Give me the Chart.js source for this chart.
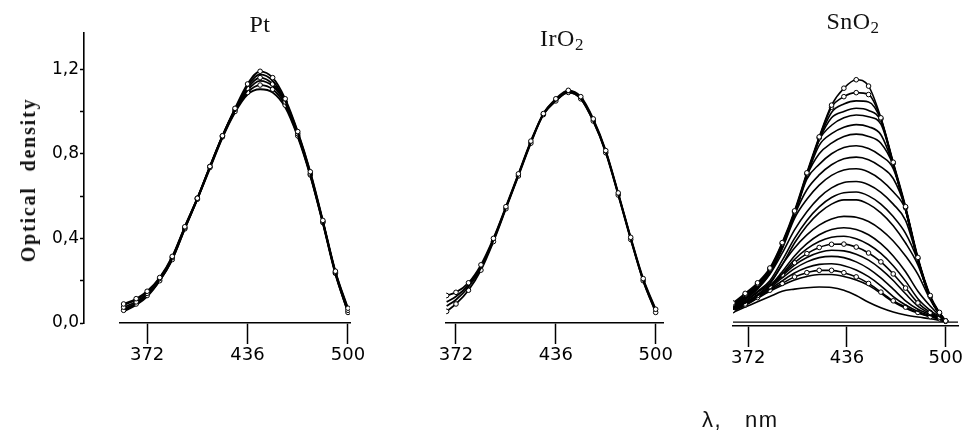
<!DOCTYPE html>
<html><head><meta charset="utf-8">
<script src="https://cdn.jsdelivr.net/npm/chart.js@4.4.1/dist/chart.umd.min.js"></script>
<style>
html,body{margin:0;padding:0;background:#fff;overflow:hidden;width:972px;height:434px;position:relative;}
canvas{position:absolute;top:0;}
.t{position:absolute;white-space:nowrap;color:#111;line-height:24px;}
.serif{font-family:"Liberation Serif","Times New Roman",serif;}
.sans{font-family:"Liberation Sans","DejaVu Sans",sans-serif;}
</style></head><body>
<canvas id="cy" width="100" height="434" style="left:0px"></canvas>
<canvas id="c1" width="290" height="434" style="left:90px"></canvas>
<canvas id="c2" width="277" height="434" style="left:416px"></canvas>
<canvas id="c3" width="269" height="434" style="left:703px"></canvas>
<div class="t serif" style="left:260px;top:12px;font-size:24px;letter-spacing:0.5px;transform:translateX(-50%)">Pt</div>
<div class="t serif" style="left:562px;top:26px;font-size:24px;letter-spacing:0.5px;transform:translateX(-50%)">IrO<span style="font-size:17px;vertical-align:-4px">2</span></div>
<div class="t serif" style="left:853px;top:9px;font-size:24px;letter-spacing:0.5px;transform:translateX(-50%)">SnO<span style="font-size:17px;vertical-align:-4px">2</span></div>
<div class="t serif" style="left:28px;top:180px;font-size:20px;font-weight:bold;letter-spacing:1.8px;word-spacing:8px;transform:translate(-50%,-50%) rotate(-90deg)">Optical density</div>
<div class="t sans" style="left:702px;top:408px;font-size:22px;letter-spacing:1.5px;white-space:pre">λ,   nm</div>
<script>
// ---- axis ticks ----
const yTickValues = [0, 0.2, 0.4, 0.6, 0.8, 1.0, 1.2];
const yTickLabels = ['0,0', '', '0,4', '', '0,8', '', '1,2'];
const xTickValues = [372, 436, 500];
const xTickLabels = ['372', '436', '500'];

// ---- Pt panel (wavelength nm, optical density) ----
const ptWavelengths = [357, 365, 372, 380, 388, 396, 404, 412, 420, 428, 436, 444, 452, 460, 468, 476, 484, 492, 500];
const pt1 = [0.09, 0.115, 0.15, 0.215, 0.315, 0.455, 0.59, 0.74, 0.885, 1.015, 1.13, 1.19, 1.16, 1.06, 0.905, 0.715, 0.485, 0.245, 0.07];
const pt2 = [0.085, 0.11, 0.145, 0.21, 0.31, 0.455, 0.59, 0.74, 0.885, 1.01, 1.12, 1.175, 1.145, 1.05, 0.90, 0.71, 0.48, 0.24, 0.065];
const pt3 = [0.075, 0.10, 0.14, 0.21, 0.31, 0.45, 0.59, 0.74, 0.885, 1.01, 1.11, 1.16, 1.13, 1.045, 0.895, 0.705, 0.48, 0.24, 0.06];
const pt4 = [0.065, 0.095, 0.135, 0.205, 0.305, 0.45, 0.585, 0.735, 0.88, 1.005, 1.10, 1.145, 1.12, 1.04, 0.89, 0.70, 0.475, 0.235, 0.055];
const pt5 = [0.06, 0.09, 0.13, 0.20, 0.30, 0.445, 0.585, 0.735, 0.88, 1.0, 1.09, 1.125, 1.105, 1.03, 0.885, 0.70, 0.475, 0.235, 0.05];
const pt6 = [0.055, 0.085, 0.125, 0.20, 0.30, 0.445, 0.585, 0.73, 0.875, 0.995, 1.08, 1.105, 1.09, 1.02, 0.88, 0.695, 0.47, 0.23, 0.05];

// ---- IrO2 panel ----
const irWavelengths = [366, 372, 380, 388, 396, 404, 412, 420, 428, 436, 444, 452, 460, 468, 476, 484, 492, 500];
const ir1 = [0.13, 0.145, 0.19, 0.275, 0.40, 0.55, 0.705, 0.86, 0.99, 1.06, 1.10, 1.07, 0.965, 0.815, 0.615, 0.405, 0.21, 0.065];
const ir2 = [0.10, 0.125, 0.18, 0.265, 0.395, 0.545, 0.70, 0.855, 0.99, 1.055, 1.095, 1.065, 0.96, 0.81, 0.61, 0.40, 0.205, 0.06];
const ir3 = [0.08, 0.11, 0.17, 0.26, 0.39, 0.545, 0.70, 0.855, 0.985, 1.05, 1.09, 1.06, 0.955, 0.81, 0.61, 0.40, 0.20, 0.055];
const ir4 = [0.055, 0.09, 0.155, 0.25, 0.385, 0.54, 0.695, 0.85, 0.985, 1.05, 1.09, 1.06, 0.955, 0.805, 0.605, 0.395, 0.20, 0.05];

// ---- SnO2 panel ----
const snWavelengths = [362, 370, 378, 386, 394, 402, 410, 418, 426, 434, 442, 450, 458, 466, 474, 482, 490, 496, 500];
const sn1 = [0.095, 0.14, 0.19, 0.26, 0.38, 0.53, 0.71, 0.88, 1.03, 1.11, 1.15, 1.12, 0.97, 0.76, 0.55, 0.31, 0.13, 0.05, 0.01];
const sn2 = [0.09, 0.135, 0.185, 0.255, 0.375, 0.525, 0.705, 0.875, 1.02, 1.07, 1.089, 1.08, 0.965, 0.755, 0.545, 0.305, 0.125, 0.045, 0.01];
const sn3 = [0.085, 0.13, 0.18, 0.25, 0.37, 0.52, 0.70, 0.87, 0.995, 1.035, 1.05, 1.045, 0.96, 0.75, 0.54, 0.30, 0.12, 0.045, 0.01];
const sn4 = [0.085, 0.13, 0.18, 0.25, 0.37, 0.52, 0.70, 0.865, 0.97, 1.0, 1.015, 1.005, 0.955, 0.75, 0.54, 0.30, 0.12, 0.045, 0.01];
const sn5 = [0.08, 0.125, 0.175, 0.245, 0.365, 0.515, 0.70, 0.865, 0.935, 0.97, 0.983, 0.975, 0.94, 0.75, 0.54, 0.30, 0.12, 0.045, 0.01];
const sn6 = [0.08, 0.125, 0.175, 0.245, 0.365, 0.515, 0.695, 0.84, 0.895, 0.925, 0.938, 0.928, 0.89, 0.745, 0.535, 0.30, 0.12, 0.045, 0.01];
const sn7 = [0.075, 0.12, 0.17, 0.24, 0.36, 0.515, 0.695, 0.80, 0.85, 0.882, 0.893, 0.882, 0.85, 0.745, 0.535, 0.30, 0.12, 0.045, 0.01];
const sn8 = [0.075, 0.12, 0.17, 0.24, 0.36, 0.51, 0.68, 0.75, 0.80, 0.83, 0.838, 0.825, 0.79, 0.73, 0.535, 0.295, 0.12, 0.045, 0.01];
const sn9 = [0.075, 0.115, 0.165, 0.235, 0.355, 0.51, 0.63, 0.70, 0.748, 0.776, 0.784, 0.772, 0.738, 0.683, 0.54, 0.295, 0.12, 0.045, 0.01];
const sn10 = [0.07, 0.115, 0.165, 0.235, 0.35, 0.495, 0.585, 0.652, 0.698, 0.723, 0.729, 0.714, 0.677, 0.62, 0.535, 0.295, 0.12, 0.045, 0.01];
const sn11 = [0.07, 0.11, 0.16, 0.23, 0.33, 0.44, 0.526, 0.593, 0.639, 0.664, 0.669, 0.654, 0.618, 0.562, 0.485, 0.30, 0.12, 0.045, 0.01];
const sn12 = [0.07, 0.105, 0.15, 0.20, 0.296, 0.40, 0.485, 0.549, 0.593, 0.616, 0.619, 0.601, 0.562, 0.503, 0.424, 0.295, 0.12, 0.045, 0.01];
const sn13 = [0.065, 0.10, 0.145, 0.19, 0.275, 0.378, 0.46, 0.521, 0.562, 0.582, 0.582, 0.562, 0.521, 0.46, 0.378, 0.275, 0.12, 0.045, 0.01];
const sn14 = [0.065, 0.095, 0.135, 0.185, 0.276, 0.355, 0.417, 0.463, 0.492, 0.504, 0.50, 0.48, 0.442, 0.388, 0.317, 0.23, 0.11, 0.04, 0.01];
const sn15 = [0.065, 0.095, 0.13, 0.175, 0.242, 0.317, 0.375, 0.417, 0.442, 0.45, 0.442, 0.417, 0.375, 0.317, 0.242, 0.15, 0.08, 0.035, 0.01];
const sn16 = [0.065, 0.095, 0.13, 0.175, 0.232, 0.30, 0.35, 0.385, 0.405, 0.41, 0.398, 0.371, 0.329, 0.271, 0.198, 0.115, 0.06, 0.03, 0.01];
const sn17 = [0.06, 0.09, 0.13, 0.172, 0.228, 0.285, 0.328, 0.357, 0.372, 0.373, 0.359, 0.331, 0.289, 0.232, 0.165, 0.095, 0.05, 0.028, 0.01];
const sn18 = [0.06, 0.09, 0.128, 0.17, 0.222, 0.274, 0.31, 0.333, 0.344, 0.341, 0.325, 0.297, 0.255, 0.201, 0.138, 0.08, 0.045, 0.025, 0.01];
const sn19 = [0.06, 0.088, 0.125, 0.165, 0.213, 0.257, 0.289, 0.309, 0.315, 0.309, 0.289, 0.257, 0.213, 0.16, 0.105, 0.065, 0.04, 0.022, 0.01];
const sn20 = [0.058, 0.086, 0.122, 0.16, 0.199, 0.236, 0.262, 0.277, 0.28, 0.271, 0.251, 0.219, 0.176, 0.125, 0.085, 0.055, 0.035, 0.02, 0.008];
const sn21 = [0.058, 0.085, 0.12, 0.155, 0.187, 0.218, 0.238, 0.249, 0.249, 0.238, 0.218, 0.187, 0.146, 0.105, 0.075, 0.05, 0.03, 0.02, 0.008];
const sn22 = [0.056, 0.083, 0.117, 0.15, 0.178, 0.203, 0.22, 0.229, 0.229, 0.22, 0.203, 0.178, 0.14, 0.1, 0.07, 0.047, 0.03, 0.018, 0.008];
const sn23 = [0.05, 0.075, 0.10, 0.125, 0.15, 0.16, 0.167, 0.17, 0.168, 0.155, 0.13, 0.098, 0.072, 0.052, 0.038, 0.028, 0.02, 0.012, 0.005];
const snBaseWavelengths = [362.1, 508];
const snBase = [0.004, 0.004];

const ptSeries = [pt1, pt2, pt3, pt4, pt5, pt6];
const irSeries = [ir1, ir2, ir3, ir4];
const snSeries = [sn1, sn2, sn3, sn4, sn5, sn6, sn7, sn8, sn9, sn10, sn11, sn12, sn13, sn14, sn15, sn16, sn17, sn18, sn19, sn20, sn21, sn22, sn23];

Chart.defaults.animation = false;
Chart.defaults.font.family = '"DejaVu Sans", sans-serif';
Chart.defaults.color = '#000';

function lineSets(grid, series, marked, width) {
  return series.map((s, k) => ({
    data: grid.map((x, i) => ({x: x, y: s[i]})),
    borderColor: '#000',
    borderWidth: width,
    fill: false,
    cubicInterpolationMode: 'monotone',
    pointRadius: marked.includes(k) ? 2.3 : 0,
    pointBackgroundColor: '#fff',
    pointBorderColor: '#000',
    pointBorderWidth: 1
  }));
}

function panel(id, xmin, xmax, datasets, o) {
  new Chart(document.getElementById(id), {
    type: 'line',
    data: {datasets: datasets},
    options: {
      responsive: false, animation: false, events: [],
      layout: {padding: {left: 30, right: o.padRight, top: 33, bottom: 0}},
      plugins: {legend: {display: false}, tooltip: {enabled: false}, title: {display: false}},
      scales: {
        x: {
          type: 'linear', min: xmin, max: xmax,
          afterBuildTicks: s => { s.ticks = xTickValues.map(v => ({value: v})); },
          afterFit: s => { s.height = o.axisH; },
          ticks: {autoSkip: false, maxRotation: 0, padding: 1, color: '#000',
                  font: {family: '"DejaVu Sans", sans-serif', size: 18},
                  callback: (v, i) => xTickLabels[i]},
          grid: {drawOnChartArea: false, drawTicks: true, tickLength: 21, tickWidth: 1.5, color: '#000'},
          border: {display: true, color: '#000', width: 1.6}
        },
        y: {display: false, min: o.ymin, max: 1.371}
      }
    }
  });
}

// Y axis (shared)
new Chart(document.getElementById('cy'), {
  type: 'line',
  data: {datasets: []},
  options: {
    responsive: false, animation: false, events: [],
    layout: {padding: {left: 0, right: 0, top: 33, bottom: 111}},
    plugins: {legend: {display: false}, tooltip: {enabled: false}},
    scales: {
      x: {type: 'linear', display: false, min: 0, max: 1},
      y: {
        min: 0, max: 1.371,
        afterBuildTicks: s => { s.ticks = yTickValues.map(v => ({value: v})); },
        afterFit: s => { s.width = 84; },
        ticks: {autoSkip: false, padding: 1, color: '#000', font: {size: 17},
                callback: (v, i) => yTickLabels[i]},
        grid: {drawOnChartArea: false, drawTicks: true, tickLength: 4, tickWidth: 1.5, color: '#000'},
        border: {display: true, color: '#000', width: 1.6}
      }
    }
  }
});

panel('c1', 354.7, 501.3, lineSets(ptWavelengths, ptSeries, [0, 2, 4], 1.8), {padRight: 30, axisH: 111, ymin: 0});
panel('c2', 365.6, 504.7, lineSets(irWavelengths, irSeries, [0, 3], 1.8), {padRight: 30, axisH: 111, ymin: 0});
const snSets = lineSets(snWavelengths, snSeries, [0, 1, 16, 20], 1.6);
snSets.push({
  data: snBaseWavelengths.map((x, i) => ({x: x, y: snBase[i]})),
  borderColor: '#000', borderWidth: 1.4, pointRadius: 0, fill: false
});
panel('c3', 362.1, 508, snSets, {padRight: 14, axisH: 108, ymin: -0.0142});
</script>
</body></html>
